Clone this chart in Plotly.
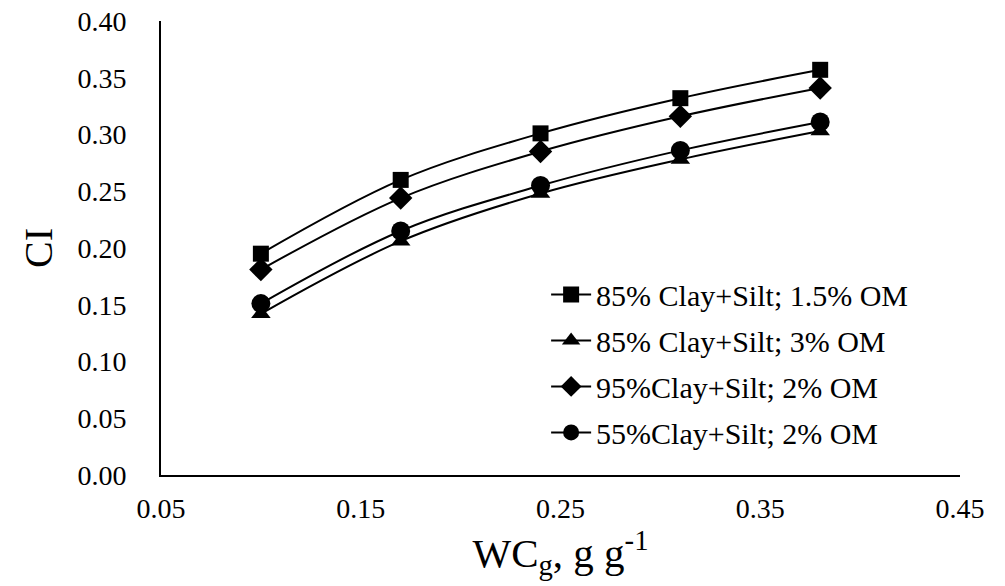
import plotly.graph_objects as go

wc = [0.10, 0.17, 0.24, 0.31, 0.38]
names = ["85% Clay+Silt; 1.5% OM", "85% Clay+Silt; 3% OM",
         "95%Clay+Silt; 2% OM", "55%Clay+Silt; 2% OM"]
ci_85_15 = [0.195, 0.260, 0.301, 0.332, 0.357]
ci_85_3 = [0.142, 0.206, 0.248, 0.278, 0.303]
ci_95_2 = [0.181, 0.244, 0.285, 0.316, 0.341]
ci_55_2 = [0.151, 0.215, 0.255, 0.286, 0.311]
series = [ci_85_15, ci_85_3, ci_95_2, ci_55_2]
symbols = ["square", "triangle-up", "diamond", "circle"]
sizes = [16, 17, 18, 19]

FONT = "Liberation Serif"
fig = go.Figure()
for i, (n, ys, sym, sz) in enumerate(zip(names, series, symbols, sizes)):
    fig.add_trace(go.Scatter(
        x=wc, y=ys, name=n, mode="lines+markers",
        line=dict(color="black", width=2, shape="spline"),
        marker=dict(symbol=sym, size=sz, color="black"),
        legendgroup=f"g{i}",
    ))

fig.update_layout(
    width=1005, height=586,
    margin=dict(l=161, r=45, t=21, b=111),
    paper_bgcolor="white", plot_bgcolor="white",
    font=dict(family=FONT, size=28, color="black"),
    showlegend=True,
    legend=dict(x=0.482, y=0.455, xanchor="left", yanchor="top",
                bgcolor="rgba(0,0,0,0)", font=dict(family=FONT, size=30),
                traceorder="grouped", tracegroupgap=4, itemwidth=40),
    xaxis=dict(range=[0.05, 0.45], tickvals=[0.05, 0.15, 0.25, 0.35, 0.45],
               ticktext=["0.05", "0.15", "0.25", "0.35", "0.45"],
               showgrid=False, zeroline=False, showline=True, automargin=False,
               linecolor="black", linewidth=2, ticks="outside", ticklen=7,
               tickcolor="rgba(0,0,0,0)",
               tickfont=dict(family=FONT, size=28),
               title=dict(text="WC<sub>g</sub>, g g<sup>-1</sup>",
                          font=dict(family=FONT, size=41), standoff=6)),
    yaxis=dict(range=[0, 0.40], tickvals=[0, 0.05, 0.10, 0.15, 0.20, 0.25, 0.30, 0.35, 0.40],
               tickformat=".2f", showgrid=False, zeroline=False, showline=True,
               automargin=False,
               linecolor="black", linewidth=2, ticks="outside", ticklen=27,
               tickcolor="rgba(0,0,0,0)",
               tickfont=dict(family=FONT, size=28),
               title=dict(text="CI", font=dict(family=FONT, size=40), standoff=12)),
)

fig.write_html("out.html")
